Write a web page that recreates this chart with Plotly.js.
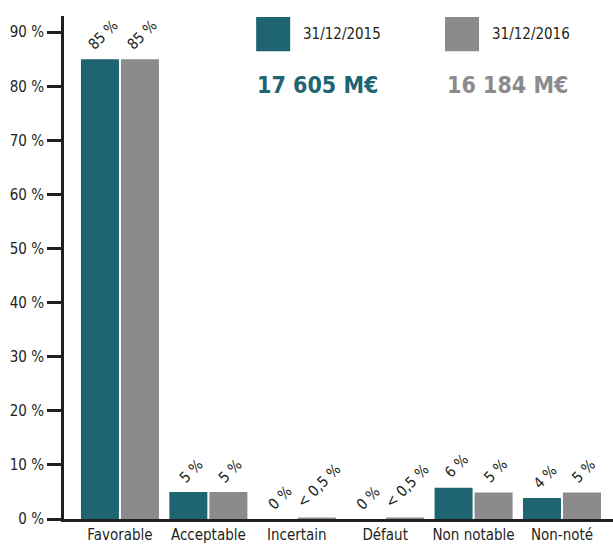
<!DOCTYPE html>
<html>
<head>
<meta charset="utf-8">
<script src="https://cdn.plot.ly/plotly-3.0.1.min.js"></script>
<style>
  html, body { margin: 0; padding: 0; background: #fff; }
  #graphe { width: 613px; height: 547px; }
</style>
</head>
<body>
<div id="graphe"></div>
<script>
// Données
var categories = ["Favorable", "Acceptable", "Incertain", "Défaut", "Non notable", "Non-noté"];
var valeurs2015 = [85, 5, 0, 0, 5.8, 3.9];
var valeurs2016 = [85, 5, 0.3, 0.3, 4.9, 4.9];
var etiquettes2015 = ["85 %", "5 %", "0 %", "0 %", "6 %", "4 %"];
var etiquettes2016 = ["85 %", "5 %", "< 0,5 %", "< 0,5 %", "5 %", "5 %"];
var series = ["31/12/2015", "31/12/2016"];
var totaux = ["17 605 M€", "16 184 M€"];

var teal = "#1e6571";
var gris = "#8b8b8d";
var encre = "#231f20";
var police = "DejaVu Sans Condensed, Arial Narrow, sans-serif";

var data = [
  {type: "bar", x: categories, y: valeurs2015, name: series[0], marker: {color: teal}, hoverinfo: "none"},
  {type: "bar", x: categories, y: valeurs2016, name: series[1], marker: {color: gris}, hoverinfo: "none"}
];

// étiquettes inclinées au-dessus des barres
var annotations = [];
function etiquettes(valeurs, textes, decalage) {
  for (var i = 0; i < categories.length; i++) {
    annotations.push({
      x: categories[i], y: valeurs[i], xref: "x", yref: "y",
      xanchor: "center", yanchor: "bottom", xshift: decalage, yshift: 3,
      text: textes[i], textangle: -45, showarrow: false,
      font: {family: police, size: 15, color: encre}
    });
  }
}
etiquettes(valeurs2015, etiquettes2015, -17);
etiquettes(valeurs2016, etiquettes2016, 22);

// légende faite à la main (grands carrés)
var shapes = [
  {type: "rect", xref: "paper", yref: "paper", x0: 0.350, x1: 0.412, y0: 0.930, y1: 0.998, fillcolor: teal, line: {width: 0}},
  {type: "rect", xref: "paper", yref: "paper", x0: 0.694, x1: 0.756, y0: 0.930, y1: 0.998, fillcolor: gris, line: {width: 0}}
];
annotations.push(
  {xref: "paper", yref: "paper", x: 0.432, y: 0.964, xanchor: "left", yanchor: "middle", showarrow: false,
   text: series[0], font: {family: police, size: 15, color: encre}},
  {xref: "paper", yref: "paper", x: 0.776, y: 0.964, xanchor: "left", yanchor: "middle", showarrow: false,
   text: series[1], font: {family: police, size: 15, color: encre}},
  {xref: "paper", yref: "paper", x: 0.348, y: 0.863, xanchor: "left", yanchor: "middle", showarrow: false,
   text: "<b>" + totaux[0] + "</b>", font: {family: police, size: 23, color: teal}},
  {xref: "paper", yref: "paper", x: 0.694, y: 0.863, xanchor: "left", yanchor: "middle", showarrow: false,
   text: "<b>" + totaux[1] + "</b>", font: {family: police, size: 23, color: gris}}
);

var layout = {
  width: 613, height: 547,
  margin: {l: 64, r: 0, t: 16, b: 28},
  paper_bgcolor: "#fff", plot_bgcolor: "#fff",
  font: {family: police, size: 15, color: encre},
  showlegend: false,
  barmode: "group",
  bargap: 0.095,
  bargroupgap: 0.05,
  xaxis: {
    range: [-0.633, 5.577],
    showline: true, linewidth: 3, linecolor: encre,
    ticks: "", showgrid: false, zeroline: false,
    tickfont: {family: police, size: 15, color: encre}
  },
  yaxis: {
    range: [0, 93],
    tickvals: [0, 10, 20, 30, 40, 50, 60, 70, 80, 90],
    ticktext: ["0 %", "10 %", "20 %", "30 %", "40 %", "50 %", "60 %", "70 %", "80 %", "90 %"],
    showline: true, linewidth: 3, linecolor: encre,
    ticks: "outside", ticklen: 14, tickwidth: 3, tickcolor: encre,
    showgrid: false, zeroline: false,
    tickfont: {family: police, size: 15, color: encre}
  },
  shapes: shapes,
  annotations: annotations
};

Plotly.newPlot("graphe", data, layout, {displayModeBar: false, staticPlot: true});
</script>
</body>
</html>
